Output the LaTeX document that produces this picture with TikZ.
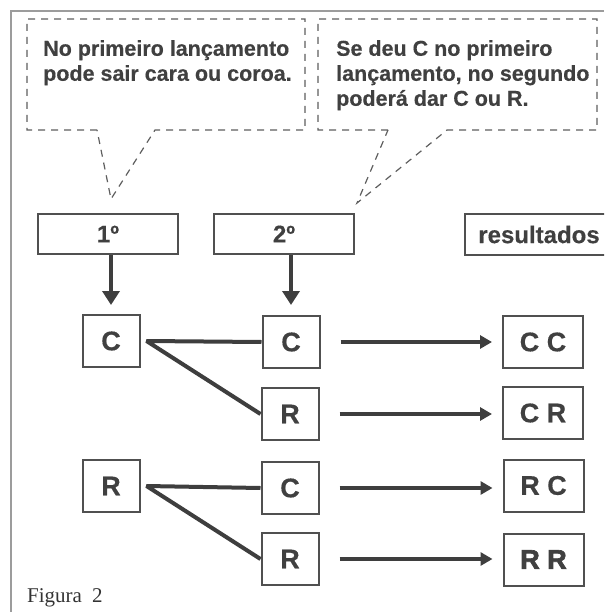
\documentclass[tikz,border=0pt]{standalone}
\usepackage{fontspec}
\setmainfont{Liberation Sans}[BoldFeatures={FakeBold=0.4}]
\newfontfamily\capfont{Liberation Serif}
\newfontface\heavyfont{Liberation Sans Bold}[FakeBold=2.5]
\usetikzlibrary{arrows.meta,positioning,calc}
\definecolor{txtGray}{HTML}{404040}
\definecolor{lineGray}{HTML}{3E3E3E}
\definecolor{boxGray}{HTML}{505050}
\definecolor{dashGray}{HTML}{5E5E5E}
\definecolor{frameGray}{HTML}{9C9C9C}

\begin{document}
\begin{tikzpicture}[x=1pt,y=-1pt,
  head/.style={draw=boxGray,line width=2pt,minimum width=140pt,minimum height=40pt,inner sep=0pt,font=\fontsize{24}{24}\selectfont\bfseries,text=txtGray},
  coin/.style={draw=boxGray,line width=2pt,minimum width=57pt,minimum height=52pt,inner sep=0pt,font=\fontsize{27}{27}\selectfont\bfseries,text=txtGray},
  res/.style={coin,minimum width=80pt},
  down/.style={-{Triangle[length=14pt,width=17pt]},line width=4pt,lineGray},
  conn/.style={line width=4pt,lineGray,line join=bevel},
  arr/.style={-{Triangle[length=12pt,width=13pt]},line width=4pt,lineGray},
  callout/.style={dashGray,line width=1.2pt,dash pattern=on 7pt off 6pt},
  note/.style={anchor=north west,inner sep=0pt,align=left,font=\fontsize{21.5}{25}\selectfont\bfseries,text=txtGray}]
  \useasboundingbox (0,0) rectangle (604,612);
  \clip (0,0) rectangle (604,612);
  % frame
  \draw[frameGray,line width=2.5pt] (11,612) -- (11,11) -- (604,11);
  % callouts
  \coordinate (tip1) at (111,199);
  \coordinate (tip2) at (357,203);
  \draw[callout] (97,130) -- (27,130) -- (27,19) -- (305,19) -- (305,130) -- (155,130) -- (tip1) -- cycle;
  \draw[callout] (388,130) -- (318,130) -- (318,19) -- (597,19) -- (597,130) -- (447,130) -- (tip2) -- cycle;
  \node[note] (n1) at (43,40) {No primeiro lançamento\\pode sair cara ou coroa.};
  \node[note] (n2) at (336,40) {Se deu C no primeiro\\lançamento, no segundo\\poderá dar C ou R.};
  % headings
  \node[head] (h1) at (108,234) {1º};
  \node[head] (h2) at (284,234) {2º};
  \node[head,minimum width=148pt,minimum height=41pt] (hres) at (539,234.5) {resultados};
  % coins
  \node[coin] (a1) at (111,341) {C};
  \node[coin] (a2) at (111,486) {R};
  \node[coin] (b1) at (291,342) {C};
  \node[coin] (b2) at (290,414) {R};
  \node[coin] (b3) at (290,488) {C};
  \node[coin] (b4) at (290,559) {R};
  \node[res] (r1) at (543,342) {C C};
  \node[res] (r2) at (543,413) {C R};
  \node[res] (r3) at (543.5,485.5) {R C};
  \node[res,font=\heavyfont\fontsize{27}{27}\selectfont] (r4) at (543.5,559.5) {R R};
  % arrows
  \draw[down,shorten >=9pt] (h1.south -| a1.north) -- (a1.north);
  \draw[down,shorten >=10pt] (h2.south -| b1.north) -- (b1.north);
  \coordinate (a1o) at ([xshift=6pt]a1.east);
  \coordinate (a2o) at ([xshift=6pt]a2.east);
  \draw[conn] (b1.west) -- (a1o) -- (b2.west);
  \draw[conn] (b3.west) -- (a2o) -- (b4.west);
  \foreach \i in {1,...,4}{\draw[arr,shorten <=20pt,shorten >=10pt] (b\i.east) -- (b\i.east -| r\i.west);}
  \node[anchor=base west,inner sep=0pt,font=\capfont\fontsize{21}{21}\selectfont,text=black!80] (fig) at (27,602) {Figura\hspace{10pt}2};
\end{tikzpicture}
\end{document}
